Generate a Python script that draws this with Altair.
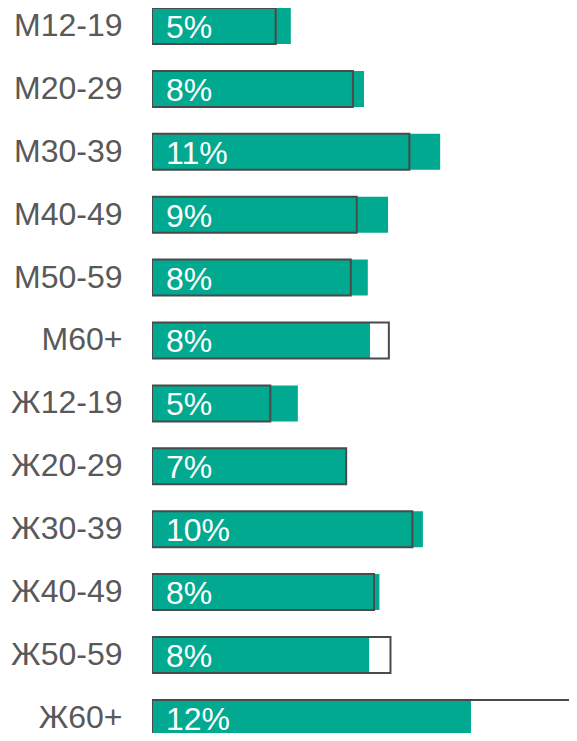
import altair as alt
import pandas as pd

# Categories (М = men, Ж = women, age groups)
categories = ["М12-19", "М20-29", "М30-39", "М40-49", "М50-59", "М60+",
              "Ж12-19", "Ж20-29", "Ж30-39", "Ж40-49", "Ж50-59", "Ж60+"]
# Filled (green) bar values, %
share = [5.14, 7.85, 10.67, 8.74, 7.99, 8.07, 5.40, 7.19, 10.03, 8.42, 8.04, 11.81]
# Outlined comparison bar values, %
benchmark = [4.58, 7.44, 9.53, 7.58, 7.36, 8.77, 4.38, 7.19, 9.64, 8.22, 8.83, 16.5]
# Printed labels
labels = ["5%", "8%", "11%", "9%", "8%", "8%", "5%", "7%", "10%", "8%", "8%", "12%"]

df = pd.DataFrame({"cat": categories, "share": share,
                   "bench": benchmark, "label": labels})

GREEN = "#00A98F"
OUTLINE = "#4a4a4a"
GRAY = "#595959"
FONT = "Liberation Sans"

y_enc = alt.Y("cat:N", sort=None, title=None,
              scale=alt.Scale(paddingInner=0.4277, paddingOuter=0,
                              range=[0, 727.9]),
              axis=alt.Axis(domain=False, ticks=False, grid=False,
                            labelFontSize=32, labelColor=GRAY, labelFont=FONT,
                            labelPadding=30, minExtent=144, maxExtent=144))
x_scale = alt.Scale(domain=[0, 15.44], nice=False, zero=True)

base = alt.Chart(df)

green = base.mark_bar(color=GREEN, cornerRadius=0, clip=True).encode(
    x=alt.X("share:Q", scale=x_scale, axis=None),
    y=y_enc,
)

outline = base.mark_bar(fill=None, fillOpacity=0, stroke=OUTLINE,
                        strokeWidth=2, clip=True).encode(
    x=alt.X("bench:Q", scale=x_scale, axis=None),
    y=y_enc,
)

text = base.mark_text(align="left", baseline="middle", dx=14, dy=2,
                      fontSize=32, font=FONT, color="white").encode(
    x=alt.value(0),
    y=y_enc,
    text="label:N",
)

chart = (green + outline + text).properties(
    width=417, height=725, padding=0
).configure(background="white").configure_view(stroke=None)

chart.save("out.html", embed_options={"renderer": "svg", "actions": False})
